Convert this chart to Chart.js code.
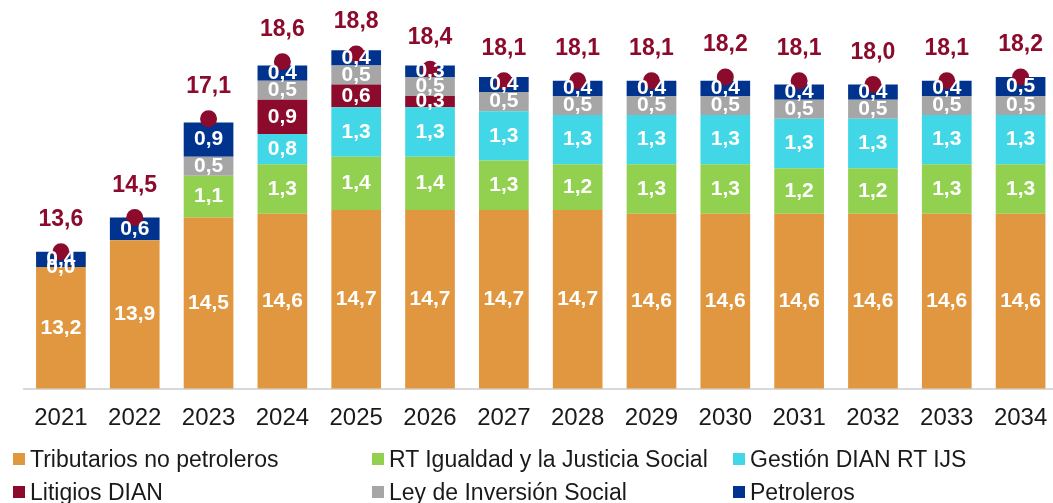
<!DOCTYPE html>
<html>
<head>
<meta charset="utf-8">
<script src="https://cdn.jsdelivr.net/npm/chart.js@4"></script>
<style>
  html, body { margin: 0; padding: 0; background: #fff; overflow: hidden; }
  #wrap { position: relative; width: 1053px; height: 503px; overflow: hidden; }
  #chart { position: absolute; left: 0; top: 0; }
  .legend-item { position: absolute; font: 23px 'Liberation Sans', Arial, sans-serif; color: #1a1a1a; white-space: nowrap; line-height: 26px; }
  .legend-box { position: absolute; width: 12px; height: 12px; top: 7px; }
</style>
</head>
<body>
<div id="wrap">
  <canvas id="chart" width="1066" height="503"></canvas>
  <div id="legend"></div>
</div>
<script>
const years = ['2021', '2022', '2023', '2024', '2025', '2026', '2027', '2028', '2029', '2030', '2031', '2032', '2033', '2034'];

const tributarios = [13.2, 13.9, 14.5, 14.6, 14.7, 14.7, 14.7, 14.7, 14.6, 14.6, 14.6, 14.6, 14.6, 14.6];
const rtIgualdad = [null, null, 1.1, 1.3, 1.4, 1.4, 1.3, 1.2, 1.3, 1.3, 1.2, 1.2, 1.3, 1.3];
const gestionDian = [null, null, null, 0.8, 1.3, 1.3, 1.3, 1.3, 1.3, 1.3, 1.3, 1.3, 1.3, 1.3];
const litigios = [null, null, null, 0.9, 0.6, 0.3, null, null, null, null, null, null, null, null];
const leyInversion = [0.0, null, 0.5, 0.5, 0.5, 0.5, 0.5, 0.5, 0.5, 0.5, 0.5, 0.5, 0.5, 0.5];
const petroleros = [0.4, 0.6, 0.9, 0.4, 0.4, 0.3, 0.4, 0.4, 0.4, 0.4, 0.4, 0.4, 0.4, 0.5];
const totales = [13.6, 14.5, 17.1, 18.6, 18.8, 18.4, 18.1, 18.1, 18.1, 18.2, 18.1, 18.0, 18.1, 18.2];

const FONT = "'Liberation Sans', Arial, sans-serif";
const RED = '#8c0a2b';

const series = [
  { label: 'Tributarios no petroleros', data: tributarios, color: '#e0973f' },
  { label: 'RT Igualdad y la Justicia Social', data: rtIgualdad, color: '#92d050' },
  { label: 'Gestión DIAN RT IJS', data: gestionDian, color: '#41d7e6' },
  { label: 'Litigios DIAN', data: litigios, color: RED },
  { label: 'Ley de Inversión Social', data: leyInversion, color: '#a6a6a6' },
  { label: 'Petroleros', data: petroleros, color: '#00338d' }
];

const fmt = (v) => v.toFixed(1).replace('.', ',');

// white labels inside the bars, red totals above the dots
const labelPlugin = {
  id: 'labels',
  afterDatasetsDraw(chart) {
    const ctx = chart.ctx;
    const bottom = chart.chartArea.bottom;
    ctx.save();
    ctx.textAlign = 'center';
    ctx.textBaseline = 'middle';
    chart.data.datasets.forEach((ds, i) => {
      const meta = chart.getDatasetMeta(i);
      meta.data.forEach((el, j) => {
        const v = ds.data[j];
        if (v === null || v === undefined) return;
        if (ds.type === 'line') {
          ctx.fillStyle = RED;
          ctx.font = `bold 23px ${FONT}`;
          ctx.fillText(fmt(v), el.x, el.y - 32);
        } else {
          // the axis starts at 10, so the bottom segment is cut at the chart area
          const base = Math.min(el.base, bottom);
          ctx.fillStyle = '#ffffff';
          ctx.font = `bold 21px ${FONT}`;
          ctx.fillText(fmt(v), el.x, (el.y + base) / 2);
        }
      });
    });
    ctx.restore();
  }
};

const datasets = series.map((s) => ({
  type: 'bar',
  label: s.label,
  data: s.data,
  backgroundColor: s.color,
  borderWidth: 0,
  order: 1,
  categoryPercentage: 1,
  barPercentage: 0.673
}));

datasets.push({
  type: 'line',
  label: 'Total',
  data: totales,
  stack: 'total',
  showLine: false,
  pointRadius: 8.5,
  pointBackgroundColor: RED,
  pointBorderWidth: 0,
  order: 0
});

new Chart(document.getElementById('chart'), {
  data: { labels: years, datasets: datasets },
  options: {
    responsive: false,
    animation: false,
    layout: { padding: { left: 24, right: 2, top: 7.6, bottom: 0 } },
    plugins: {
      legend: { display: false },
      tooltip: { enabled: false }
    },
    scales: {
      x: {
        stacked: true,
        grid: { display: false, drawTicks: false },
        border: { display: true, color: '#d9d9d9', width: 2 },
        ticks: { color: '#1a1a1a', font: { family: FONT, size: 24 }, padding: 15 },
        afterFit: (scale) => { scale.height = 114.4; }
      },
      y: {
        stacked: true,
        display: false,
        min: 10,
        max: 20
      }
    },
    events: []
  },
  plugins: [labelPlugin]
});

// legend in three columns, two rows
const legendX = [13, 372, 733];
const legendY = [446, 479];
const legend = document.getElementById('legend');
series.forEach((s, i) => {
  const item = document.createElement('div');
  item.className = 'legend-item';
  item.style.left = legendX[i % 3] + 'px';
  item.style.top = legendY[Math.floor(i / 3)] + 'px';
  item.style.paddingLeft = '17px';
  const box = document.createElement('span');
  box.className = 'legend-box';
  box.style.left = '0px';
  box.style.background = s.color;
  item.appendChild(box);
  item.appendChild(document.createTextNode(s.label));
  legend.appendChild(item);
});
</script>
</body>
</html>
